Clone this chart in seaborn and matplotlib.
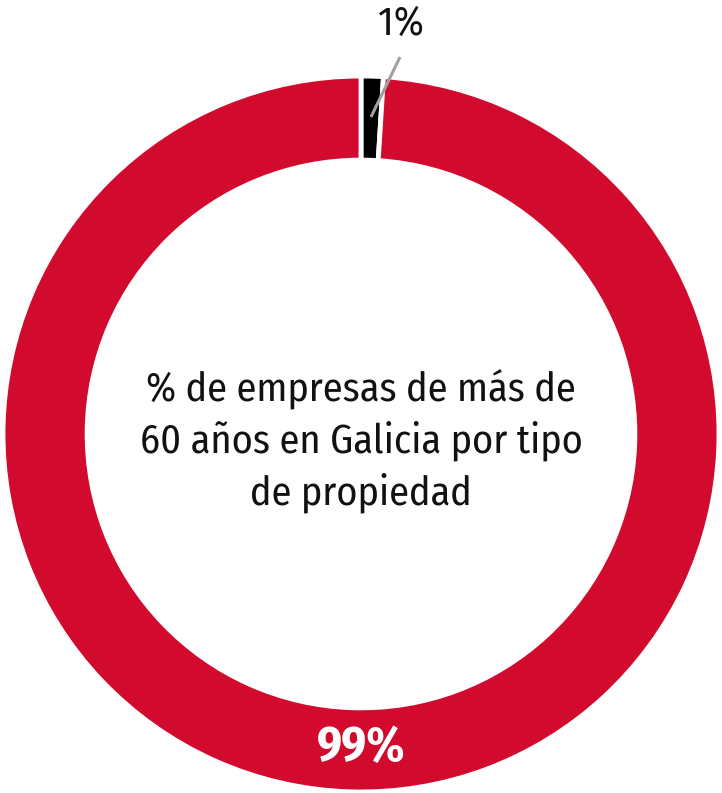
import matplotlib
matplotlib.use("Agg")
import matplotlib.pyplot as plt
import seaborn as sns
import numpy as np

sns.set_theme(style="white")

categories = ["Otra propiedad", "Empresa familiar"]
values = [1, 99]
labels = ["1%", "99%"]
colors = ["#000000", "#D20A2E"]
title_text = "% de empresas de más de\n60 años en Galicia por tipo\nde propiedad"

plt.rcParams['font.family'] = ['Fira Sans Condensed', 'DejaVu Sans']

fig = plt.figure(figsize=(7.22, 7.93), dpi=100)
ax = fig.add_axes([0, 0, 1, 1])
R = 358.0

wedges, _ = ax.pie(values, colors=colors, startangle=90, counterclock=False,
                   radius=1.0, wedgeprops=dict(width=0.235, edgecolor="white", linewidth=3.5))

ax.set_xlim(-361 / R, (722 - 361) / R)
ax.set_ylim(-(793 - 434) / R, 434 / R)
ax.set_aspect("equal")
ax.axis("off")

ax.text(0, (434 - 441) / R, title_text, ha="center", va="center", fontsize=29,
        color="#111111", linespacing=1.36)

# 99% label inside ring at bottom
ax.text(0.0, -(748 - 434) / R, labels[1], ha="center", va="center", fontsize=35,
        fontweight="bold", color="white")

# 1% label with leader line
ax.plot([(371 - 361) / R, (400 - 361) / R], [(434 - 117) / R, (434 - 57) / R],
        color="#A0A0A0", lw=2.2, solid_capstyle="butt")
ax.text(40 / R, (434 - 24) / R, labels[0], ha="center", va="center",
        fontsize=29, color="#111111")

fig.savefig("out.png", dpi=100, facecolor="white")
